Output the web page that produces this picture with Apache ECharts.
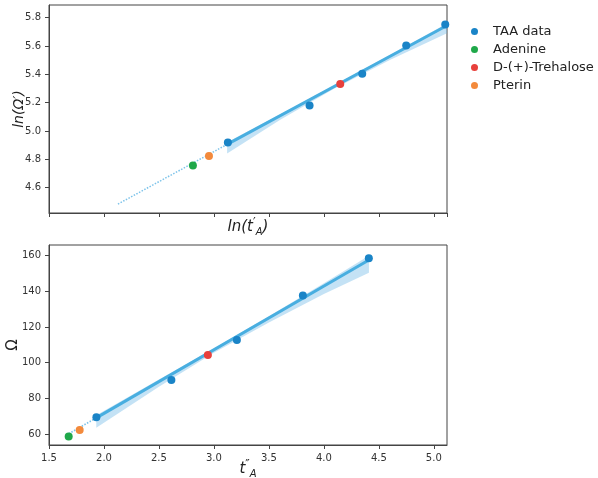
<!DOCTYPE html>
<html>
<head>
<meta charset="utf-8">
<script src="https://cdn.jsdelivr.net/npm/echarts@6/dist/echarts.min.js"></script>
<style>
  html, body { margin: 0; padding: 0; background: #fff; }
  #chart { width: 598px; height: 478px; }
</style>
</head>
<body>
<div id="chart"></div>
<script>
// top panel: ln(Omega') vs ln(t'_A)
const topTaaX = [3.127, 3.870, 4.349, 4.749, 5.104]
const topTaaY = [4.918, 5.180, 5.405, 5.604, 5.752]
const topAdenine = [[2.809, 4.755]]
const topTrehalose = [[4.149, 5.332]]
const topPterin = [[2.955, 4.823]]
const topFit = [[3.12, 4.905], [5.12, 5.745]]
const topExtension = [[2.127, 4.483], [3.12, 4.905]]
const topBandX = [3.12, 3.6, 4.1, 4.6, 5.12]
const topBandLow = [4.840, 5.077, 5.302, 5.502, 5.690]
const topBandHigh = [4.920, 5.117, 5.325, 5.537, 5.760]

// bottom panel: Omega vs t''_A
const botTaaX = [1.931, 2.613, 3.209, 3.809, 4.409]
const botTaaY = [69.4, 90.3, 112.7, 137.6, 158.5]
const botAdenine = [[1.679, 58.5]]
const botTrehalose = [[2.945, 104.3]]
const botPterin = [[1.779, 62.2]]
const botFit = [[1.93, 69.0], [4.41, 157.6]]
const botExtension = [[1.68, 60.1], [1.93, 69.0]]
const botBandX = [1.93, 2.5, 3.0, 3.5, 4.0, 4.41]
const botBandLow = [63.5, 86.5, 105.5, 122.5, 138.5, 150.5]
const botBandHigh = [70.5, 90.5, 108.0, 126.0, 144.5, 160.0]

const seriesNames = ['TAA data', 'Adenine', 'D-(+)-Trehalose', 'Pterin']
const colors = {
  taa: '#1a84c7',
  adenine: '#1fa84a',
  trehalose: '#e8403c',
  pterin: '#f38a3c',
  fit: '#48aee0',
  band: 'rgba(100,180,228,0.38)'
}

const font = 'DejaVu Sans'
const zip = (xs, ys) => xs.map((x, i) => [x, ys[i]])

function bandSeries(idx, xs, lo, hi) {
  return {
    type: 'custom',
    xAxisIndex: idx,
    yAxisIndex: idx,
    silent: true,
    z: 1,
    data: [0],
    renderItem(params, api) {
      const pts = []
      xs.forEach((x, i) => pts.push(api.coord([x, hi[i]])))
      for (let i = xs.length - 1; i >= 0; i--) pts.push(api.coord([xs[i], lo[i]]))
      return {
        type: 'polygon',
        shape: { points: pts },
        style: { fill: colors.band }
      }
    }
  }
}

function dots(idx, name, data, color) {
  return {
    name, type: 'scatter', xAxisIndex: idx, yAxisIndex: idx, data,
    symbolSize: 8, z: 4, itemStyle: { color, opacity: 1 }
  }
}

function panelSeries(idx, d) {
  return [
    bandSeries(idx, d.bandX, d.bandLow, d.bandHigh),
    {
      type: 'line', xAxisIndex: idx, yAxisIndex: idx, data: d.extension,
      showSymbol: false, silent: true, z: 2,
      lineStyle: { color: '#7cc3ea', width: 1.5, type: 'dotted' }
    },
    {
      type: 'line', xAxisIndex: idx, yAxisIndex: idx, data: d.fit,
      showSymbol: false, silent: true, z: 3,
      lineStyle: { color: colors.fit, width: 3 }
    },
    dots(idx, 'TAA data', d.taa, colors.taa),
    dots(idx, 'Adenine', d.adenine, colors.adenine),
    dots(idx, 'D-(+)-Trehalose', d.trehalose, colors.trehalose),
    dots(idx, 'Pterin', d.pterin, colors.pterin)
  ]
}

const axisCommon = {
  nameMoveOverlap: false,
  axisLine: { show: true, onZero: false, lineStyle: { color: '#444', width: 1 } },
  axisTick: { show: true, length: 4, lineStyle: { color: '#444' } },
  splitLine: { show: false },
  axisLabel: { color: '#333', fontSize: 10, fontFamily: font, showMinLabel: false, showMaxLabel: false }
}

const nameRich = {
  i: { fontStyle: 'italic', fontSize: 15, lineHeight: 20, color: '#222', fontFamily: font },
  p: { fontSize: 12, color: '#222', fontFamily: font, verticalAlign: 'top' },
  s: { fontStyle: 'italic', fontSize: 10, color: '#222', fontFamily: font, verticalAlign: 'bottom' }
}

const chart = echarts.init(document.getElementById('chart'))
chart.setOption({
  animation: false,
  textStyle: { fontFamily: font },
  legend: {
    data: seriesNames,
    orient: 'vertical',
    left: 466,
    top: 20,
    icon: 'circle',
    itemWidth: 7,
    itemHeight: 7,
    itemGap: 5,
    textStyle: { fontSize: 13, color: '#222', fontFamily: font, padding: [0, 0, 0, 10] }
  },
  grid: [
    { left: 49, top: 5, right: 151, height: 208, show: true, borderColor: '#444', borderWidth: 1, outerBoundsMode: 'none', containLabel: false },
    { left: 49, top: 245, right: 151, height: 200, show: true, borderColor: '#444', borderWidth: 1, outerBoundsMode: 'none', containLabel: false }
  ],
  xAxis: [
    Object.assign({}, axisCommon, {
      type: 'value', gridIndex: 0, min: 1.5, max: 5.12, interval: 0.5,
      axisLabel: { show: false },
      name: '{i|ln(t}{p|′}{s|A}{i|)}',
      nameLocation: 'middle',
      nameGap: 4,
      nameTextStyle: { rich: nameRich }
    }),
    Object.assign({}, axisCommon, {
      type: 'value', gridIndex: 1, min: 1.5, max: 5.12, interval: 0.5,
      axisLabel: Object.assign({}, axisCommon.axisLabel, { showMinLabel: true, formatter: v => v.toFixed(1) }),
      name: '{i|t}{p|″}{s|A}',
      nameLocation: 'middle',
      nameGap: 14,
      nameTextStyle: { rich: nameRich }
    })
  ],
  yAxis: [
    Object.assign({}, axisCommon, {
      type: 'value', gridIndex: 0, min: 4.42, max: 5.89, splitNumber: 7,
      axisLabel: Object.assign({}, axisCommon.axisLabel, { formatter: v => v.toFixed(1) }),
      name: 'ln(Ω′)',
      nameLocation: 'middle',
      nameGap: 23,
      nameTextStyle: { fontStyle: 'italic', fontSize: 14, color: '#222' }
    }),
    Object.assign({}, axisCommon, {
      type: 'value', gridIndex: 1, min: 53.8, max: 166, splitNumber: 6,
      name: 'Ω',
      nameLocation: 'middle',
      nameGap: 28,
      nameTextStyle: { fontSize: 15, color: '#222' }
    })
  ],
  series: [].concat(
    panelSeries(0, {
      bandX: topBandX, bandLow: topBandLow, bandHigh: topBandHigh,
      extension: topExtension, fit: topFit,
      taa: zip(topTaaX, topTaaY), adenine: topAdenine, trehalose: topTrehalose, pterin: topPterin
    }),
    panelSeries(1, {
      bandX: botBandX, bandLow: botBandLow, bandHigh: botBandHigh,
      extension: botExtension, fit: botFit,
      taa: zip(botTaaX, botTaaY), adenine: botAdenine, trehalose: botTrehalose, pterin: botPterin
    })
  )
})
</script>
</body>
</html>
